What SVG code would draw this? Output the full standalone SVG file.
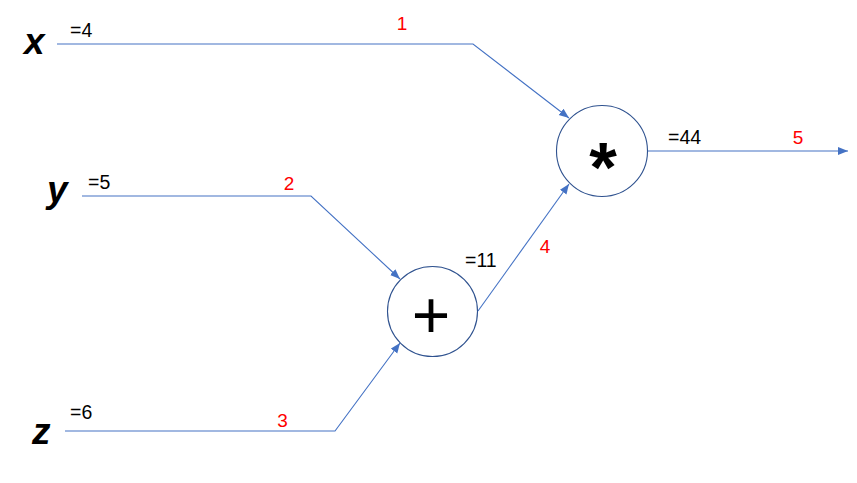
<svg xmlns="http://www.w3.org/2000/svg" width="857" height="483" viewBox="0 0 857 483">
  <style>
    .edge { fill: none; stroke: #4472C4; stroke-width: 1.1; }
    .op { fill: #FFFFFF; stroke: #2F528F; stroke-width: 1.1; }
    .var { font-family: "Liberation Sans", Arial, sans-serif; font-weight: bold; font-style: italic; font-size: 37px; fill: #000000; }
    .val { font-family: "Liberation Sans", Arial, sans-serif; font-size: 19.5px; fill: #000000; }
    .num { font-family: "Liberation Sans", Arial, sans-serif; font-size: 19px; fill: #FF0000; text-anchor: middle; }
    .sym { font-family: "Liberation Sans", Arial, sans-serif; fill: #000000; text-anchor: middle; }
  </style>
  <defs>
    <marker id="arrow" markerUnits="userSpaceOnUse" markerWidth="11" markerHeight="9" refX="10" refY="4" orient="auto">
      <path d="M0,0 L10,4 L0,8 Z" fill="#4472C4"/>
    </marker>
  </defs>
  <rect width="857" height="483" fill="#FFFFFF"/>

  <g id="connectors">
    <polyline id="e1" class="edge" points="57,44 473,44 569,118" marker-end="url(#arrow)"/>
    <polyline id="e2" class="edge" points="82,196 311,196 400,279" marker-end="url(#arrow)"/>
    <polyline id="e3" class="edge" points="65,431 335,431 400,343" marker-end="url(#arrow)"/>
    <polyline id="e4" class="edge" points="478,311 569,184" marker-end="url(#arrow)"/>
    <polyline id="e5" class="edge" points="647,151 848,151" marker-end="url(#arrow)"/>
    <text class="num" x="402" y="29.5">1</text>
    <text class="num" x="289" y="189.5">2</text>
    <text class="num" x="282.5" y="427">3</text>
    <text class="num" x="545" y="252.5">4</text>
    <text class="num" x="798" y="143.5">5</text>
  </g>

  <g id="node-x">
    <text class="var" x="24" y="54">x</text>
    <text class="val" x="70" y="37">=4</text>
  </g>
  <g id="node-y">
    <text class="var" x="47" y="202">y</text>
    <text class="val" x="88" y="189">=5</text>
  </g>
  <g id="node-z">
    <text class="var" x="32" y="444">z</text>
    <text class="val" x="70" y="419">=6</text>
  </g>
  <g id="node-add">
    <circle class="op" cx="432.5" cy="311.5" r="45"/>
    <text class="sym" x="431" y="338" font-size="66">+</text>
    <text class="val" x="465" y="267">=11</text>
  </g>
  <g id="node-mul">
    <circle class="op" cx="602" cy="151" r="45.5"/>
    <text class="sym" x="603" y="192" font-size="71" font-weight="bold">*</text>
    <text class="val" x="668" y="143.5">=44</text>
  </g>
</svg>
